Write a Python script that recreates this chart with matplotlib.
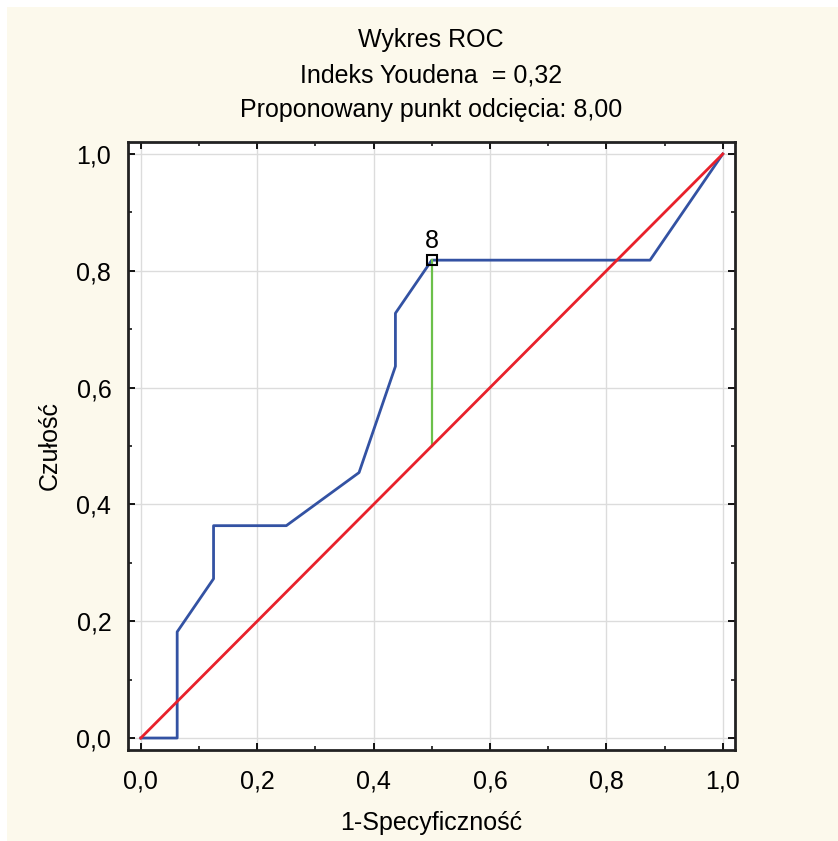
import matplotlib.pyplot as plt
from matplotlib.patches import Rectangle
from matplotlib.ticker import MultipleLocator, FuncFormatter

# ROC curve points (1-specificity, sensitivity)
fpr = [0.0, 0.0625, 0.0625, 0.125, 0.125, 0.25, 0.375, 0.4375, 0.4375, 0.5, 0.875, 1.0]
tpr = [0.0, 0.0, 0.1818, 0.2727, 0.3636, 0.3636, 0.4545, 0.6364, 0.7273, 0.8182, 0.8182, 1.0]

# suggested cut-off
cut_x = 0.5
cut_y = 0.8182
cut_label = "8"

title_lines = ["Wykres ROC", "Indeks Youdena  = 0,32", "Proponowany punkt odcięcia: 8,00"]
x_label = "1-Specyficzność"
y_label = "Czułość"

plt.rcParams['font.family'] = ['Liberation Sans', 'DejaVu Sans']
FS = 18
W, H = 838, 841

fig = plt.figure(figsize=(W / 100, H / 100), dpi=100)
fig.patch.set_facecolor('#fcf9ec')
# thin white strip on top and left edge
fig.patches.append(Rectangle((0, 0), 7 / W, 1, transform=fig.transFigure,
                             facecolor='white', edgecolor='none', zorder=-10))
fig.patches.append(Rectangle((0, 1 - 7 / H), 1, 7 / H, transform=fig.transFigure,
                             facecolor='white', edgecolor='none', zorder=-10))

ax = fig.add_axes([128 / W, 91 / H, 607 / W, 608 / H])
ax.set_facecolor('white')

ax.plot([0, 1], [0, 1], color='#e8212b', lw=2.0, zorder=3)
ax.plot(fpr, tpr, color='#3352a3', lw=2.0, zorder=2)
ax.plot([cut_x, cut_x], [cut_x, cut_y], color='#6cc04a', lw=1.6, zorder=2)
ax.plot([cut_x], [cut_y], marker='s', ms=7, mfc='none', mec='black', mew=1.5, zorder=4)
ax.text(cut_x, cut_y + 0.012, cut_label, ha='center', va='bottom', fontsize=FS)

ax.set_xlim(-0.022, 1.021)
ax.set_ylim(-0.0205, 1.0205)

fmt = FuncFormatter(lambda v, p: f"{v:.1f}".replace('.', ','))
for axis in (ax.xaxis, ax.yaxis):
    axis.set_major_locator(MultipleLocator(0.2))
    axis.set_minor_locator(MultipleLocator(0.1))
    axis.set_major_formatter(fmt)

ax.tick_params(which='both', direction='in', top=True, right=True, color='black')
ax.tick_params(which='major', length=5, width=1.3, labelsize=FS)
ax.tick_params(axis='x', which='major', pad=14)
ax.tick_params(axis='y', which='major', pad=12)
ax.tick_params(which='minor', length=3, width=1.1)
ax.grid(True, which='major', color='#dcdcdc', lw=1.0)
ax.set_axisbelow(True)

for s in ax.spines.values():
    s.set_linewidth(2.0)
    s.set_color('#222222')

fig.text(431 / W, 1 - 823 / H, x_label, ha='center', va='center', fontsize=FS)
fig.text(50 / W, 1 - 445 / H, y_label, ha='center', va='center', rotation=90, fontsize=FS)

for ypx, line in zip([40, 76, 110], title_lines):
    fig.text(431 / W, 1 - ypx / H, line, ha='center', va='center', fontsize=FS)

fig.savefig('out.png', dpi=100, facecolor=fig.get_facecolor())
